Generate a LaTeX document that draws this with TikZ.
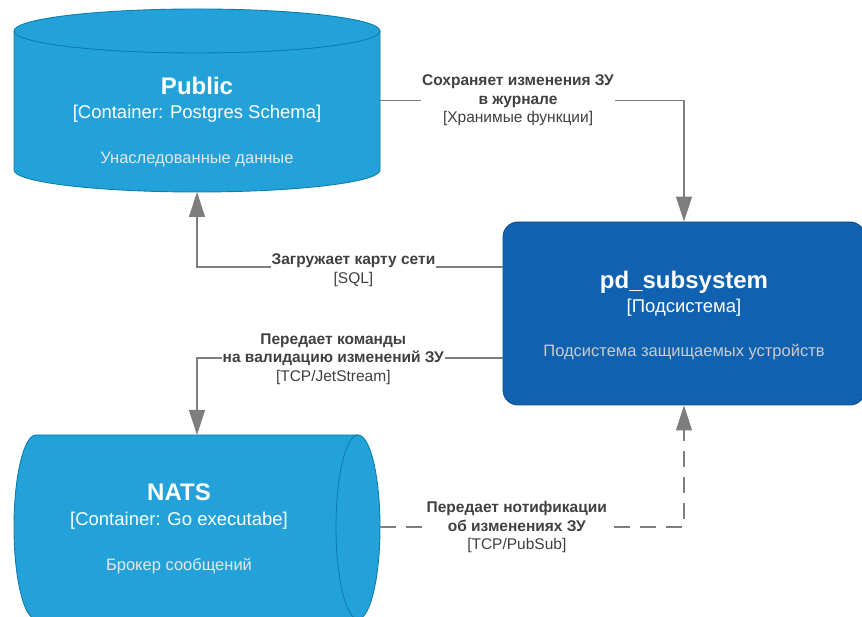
\documentclass[tikz,border=0pt]{standalone}
\usepackage{fontspec}
\setmainfont{Liberation Sans}
\usetikzlibrary{arrows.meta}
\definecolor{contfill}{HTML}{23A2D9}
\definecolor{contline}{HTML}{0E7DAD}
\definecolor{sysfill}{HTML}{1061B0}
\definecolor{sysline}{HTML}{0D5091}
\definecolor{edgecol}{HTML}{7E7E7E}
\definecolor{labcol}{HTML}{404040}
\definecolor{desccont}{HTML}{E6E6E6}
\definecolor{descsys}{HTML}{CCCCCC}
\begin{document}
\begin{tikzpicture}[x=1pt,y=1pt,
  cyl/.style={fill=contfill,draw=contline,line width=0.9pt},
  ghost/.style={inner sep=0pt,outer sep=0pt},
  ttl/.style={anchor=base,text=white,font=\bfseries\fontsize{24}{28}\selectfont,inner sep=0pt},
  tech/.style={anchor=base,text=white,font=\fontsize{18.5}{22}\selectfont,inner sep=0pt},
  desc/.style={anchor=base,text=desccont,font=\fontsize{16.5}{20}\selectfont,inner sep=0pt},
  edge/.style={draw=edgecol,line width=1.3pt,-{Triangle[length=25pt,width=16pt]}},
  lab/.style={fill=white,inner sep=1pt,align=center,text=labcol,font=\fontsize{15.5}{18.5}\selectfont}]
\useasboundingbox (0,0) rectangle (862,617);

% Public cylinder
\path[cyl] (14,586) -- (14,447) arc[start angle=180,end angle=360,x radius=183,y radius=22]
  -- (380,586) arc[start angle=0,end angle=180,x radius=183,y radius=22] -- cycle;
\draw[contline,line width=0.9pt] (14,586) arc[start angle=180,end angle=360,x radius=183,y radius=22];
\node[ghost,minimum width=366pt,minimum height=183pt] (public) at (197,516.5) {};
\node[ttl] (publicT) at (197,522) {Public};
\node[tech] (publicK) at (197,498) {[Container: Postgres Schema]};
\node[desc] (publicD) at (197,453) {Унаследованные данные};

% NATS cylinder (horizontal)
\path[cyl] (36,182) -- (358,182) arc[start angle=90,end angle=-90,x radius=22,y radius=92]
  -- (36,-2) arc[start angle=270,end angle=90,x radius=22,y radius=92] -- cycle;
\draw[contline,line width=0.9pt] (358,182) arc[start angle=90,end angle=270,x radius=22,y radius=92];
\node[ghost,minimum width=366pt,minimum height=184pt] (nats) at (197,90) {};
\node[ttl] (natsT) at (179,116) {NATS};
\node[tech] (natsK) at (179,91) {[Container: Go executabe]};
\node[desc] (natsD) at (179,46) {Брокер сообщений};

% pd_subsystem
\node[rectangle,rounded corners=15pt,fill=sysfill,draw=sysline,line width=0.9pt,
  minimum width=362pt,minimum height=183pt] (pd) at (684,303.5) {};
\node[ttl] (pdT) at (684,328) {pd\_subsystem};
\node[tech] (pdK) at (684,304) {[Подсистема]};
\node[desc,text=descsys] (pdD) at (684,260) {Подсистема защищаемых устройств};

% connectors
\draw[edge] (public.east) -| node[lab,pos=0.227] (l1)
  {\textbf{Сохраняет изменения ЗУ}\\\textbf{в журнале}\\{}[Хранимые функции]} (pd.north);
\draw[edge] ([yshift=46.5pt]pd.west) -| node[lab,pos=0.244,yshift=-3pt] (l2)
  {\textbf{Загружает карту сети}\\{}[SQL]} (public.south);
\draw[edge] ([yshift=-44.5pt]pd.west) -| node[lab,pos=0.277,yshift=-1pt] (l3)
  {\textbf{Передает команды}\\\textbf{на валидацию изменений ЗУ}\\{}[TCP/JetStream]} (nats.north);
\draw[edge,dash pattern=on 16pt off 10pt] (nats.east) -| node[lab,pos=0.225] (l4)
  {\textbf{Передает нотификации}\\\textbf{об изменениях ЗУ}\\{}[TCP/PubSub]} (pd.south);
\end{tikzpicture}
\end{document}
